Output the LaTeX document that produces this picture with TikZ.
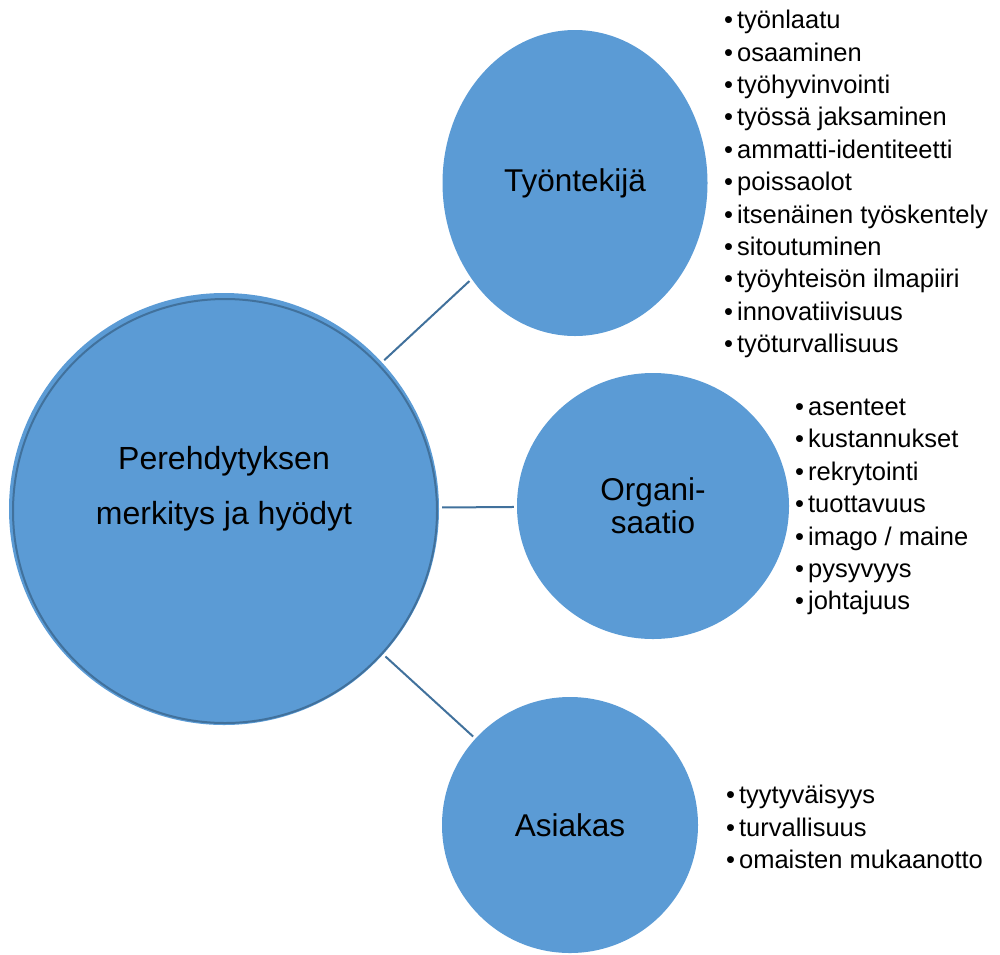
\documentclass[tikz,border=0pt]{standalone}
\usepackage{fontspec}
\setmainfont{Liberation Sans}
\usetikzlibrary{shapes.geometric}
\definecolor{bubblefill}{HTML}{5B9BD5}
\definecolor{rim}{HTML}{41719C}
\newcommand{\blt}{\textbullet\hspace{4pt}}

\begin{document}
\begin{tikzpicture}[x=1pt,y=-1pt,
  bubble/.style={ellipse,fill=bubblefill,inner sep=0pt,align=center,
    font=\fontsize{31.5}{33}\selectfont},
  link/.style={draw=rim,line width=2pt,shorten <=3pt,shorten >=3pt},
  items/.style={anchor=west,inner sep=0pt,align=left,
    font=\fontsize{25.5}{32.4}\selectfont}]
% Page frame
\useasboundingbox (0,0) rectangle (1000,954);
% Centre circle, its rim sits a little inside the fill
\node[bubble,minimum width=430pt,minimum height=432pt] (core) at (224,509) {};
\draw[rim,line width=2pt] (225,511) circle [radius=212pt];
\node[align=center,font=\fontsize{32}{55}\selectfont] (core-text)
  at ([yshift=20pt]core.center) {Perehdytyksen\\merkitys ja hyödyt};
% The three outer circles
\node[bubble,minimum width=265pt,minimum height=306pt] (tyo) at (575,183) {Työntekijä};
\node[bubble,minimum width=272pt,minimum height=266pt] (org) at (653,506) {Organi-\\saatio};
\node[bubble,minimum width=256pt,minimum height=256pt] (asiakas) at (570,825) {Asiakas};
% Connectors
\draw[link] (core) -- (tyo);
\draw[link] (core) -- (org);
\draw[link] (core) -- (asiakas);
% Bullet lists
\node[items] (tyo-list) at (724,184) {\blt työnlaatu\\\blt osaaminen\\\blt työhyvinvointi\\
  \blt työssä jaksaminen\\\blt ammatti-identiteetti\\\blt poissaolot\\
  \blt itsenäinen työskentely\\\blt sitoutuminen\\\blt työyhteisön ilmapiiri\\
  \blt innovatiivisuus\\\blt työturvallisuus};
\node[items] (org-list) at (795,507) {\blt asenteet\\\blt kustannukset\\\blt rekrytointi\\
  \blt tuottavuus\\\blt imago / maine\\\blt pysyvyys\\\blt johtajuus};
\node[items] (asiakas-list) at (726,827) {\blt tyytyväisyys\\\blt turvallisuus\\
  \blt omaisten mukaanotto};
\end{tikzpicture}
\end{document}
